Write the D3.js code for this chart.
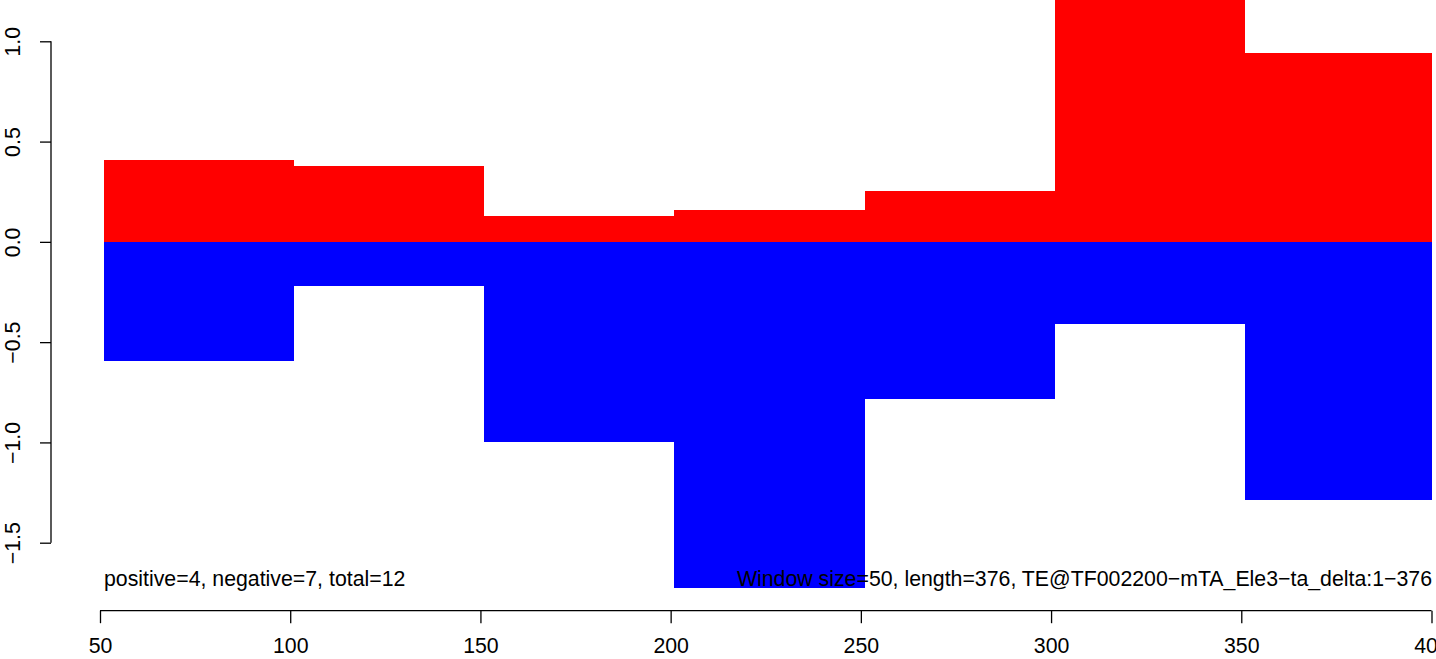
<!DOCTYPE html>
<html>
<head>
<meta charset="utf-8">
<script src="https://cdn.jsdelivr.net/npm/d3@7"></script>
<style>
  html, body { margin: 0; padding: 0; background: #fff; }
  svg { display: block; }
  text { font-family: "Liberation Sans", Arial, Helvetica, sans-serif; fill: #000; }
</style>
</head>
<body>
<svg id="chart" width="1436" height="659"></svg>
<script>
// ---- data ----
const windowStart = [51, 101, 151, 201, 251, 301, 351];
const windowEnd   = [101, 151, 201, 251, 301, 351, 400];
const positiveValues = [0.406, 0.377, 0.127, 0.157, 0.252, 1.30, 0.940];
const negativeValues = [-0.594, -0.220, -1.000, -1.727, -0.785, -0.411, -1.289];
const xTicks = [50, 100, 150, 200, 250, 300, 350, 400];
const yTicks = [-1.5, -1.0, -0.5, 0.0, 0.5, 1.0];
const yTickLabels = ["\u22121.5", "\u22121.0", "\u22120.5", "0.0", "0.5", "1.0"];
const leftNote = "positive=4, negative=7, total=12";
const rightNote = "Window size=50, length=376, TE@TF002200\u2212mTA_Ele3\u2212ta_delta:1\u2212376";

// ---- layout ----
const FS = 21.3;
const svg = d3.select("#chart");
const x = d3.scaleLinear().domain([50, 400]).range([100, 1431.5]);
const y = d3.scaleLinear().domain([-1.5, 1.0]).range([542.7, 41.3]);

const bars = windowStart.map((s, i) => ({
  s, e: windowEnd[i], pos: positiveValues[i], neg: negativeValues[i]
}));

svg.append("defs").append("clipPath").attr("id", "plotclip")
  .append("rect").attr("x", 0).attr("y", 0).attr("width", 1436).attr("height", 659);

const g = svg.append("g").attr("clip-path", "url(#plotclip)");

g.selectAll("rect.pos").data(bars).enter().append("rect")
  .attr("class", "pos")
  .attr("x", d => x(d.s))
  .attr("width", d => x(d.e) - x(d.s))
  .attr("y", d => y(d.pos))
  .attr("height", d => y(0) - y(d.pos))
  .attr("fill", "#ff0000")
  .attr("shape-rendering", "crispEdges");

g.selectAll("rect.neg").data(bars).enter().append("rect")
  .attr("class", "neg")
  .attr("x", d => x(d.s))
  .attr("width", d => x(d.e) - x(d.s))
  .attr("y", y(0))
  .attr("height", d => y(d.neg) - y(0))
  .attr("fill", "#0000ff")
  .attr("shape-rendering", "crispEdges");

// ---- y axis (R style, rotated labels) ----
const yAxis = d3.axisLeft(y).tickValues(yTicks)
  .tickFormat((d, i) => yTickLabels[i]).tickSize(11).tickPadding(0);
const ya = svg.append("g").attr("transform", "translate(51,0)").call(yAxis);
ya.select(".domain").attr("d", `M0,${y(-1.5)}V${y(1.0)}`).attr("stroke", "#000").attr("stroke-width", 1.3);
ya.selectAll(".tick line").attr("stroke", "#000").attr("stroke-width", 1.3);
ya.selectAll(".tick text")
  .attr("x", 0).attr("y", 0).attr("dy", null)
  .attr("text-anchor", "middle")
  .attr("font-size", FS)
  .attr("transform", "translate(-31,0) rotate(-90)");

// ---- x axis ----
const xAxis = d3.axisBottom(x).tickValues(xTicks).tickFormat(d3.format("d")).tickSize(12.5).tickPadding(0);
const xa = svg.append("g").attr("transform", "translate(0,610.7)").call(xAxis);
xa.select(".domain").attr("d", `M${x(50)},0H${x(400)}`).attr("stroke", "#000").attr("stroke-width", 1.3);
xa.selectAll(".tick line").attr("stroke", "#000").attr("stroke-width", 1.3);
xa.selectAll(".tick text").attr("y", 42).attr("dy", null).attr("font-size", FS);

// ---- notes ----
svg.append("text").attr("x", 104).attr("y", 586).attr("font-size", FS).text(leftNote);
svg.append("text").attr("x", 1432).attr("y", 586).attr("font-size", FS)
  .attr("text-anchor", "end").text(rightNote);
</script>
</body>
</html>
